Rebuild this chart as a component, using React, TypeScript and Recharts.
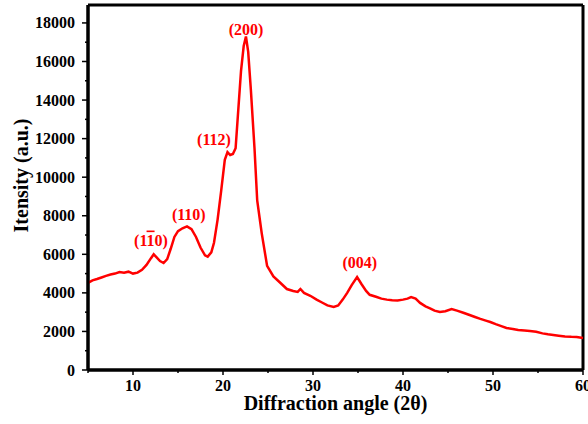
import React from "react";
import {
  LineChart,
  Line,
  XAxis,
  YAxis,
  ReferenceLine,
  ReferenceDot,
} from "recharts";

// 2-theta positions (deg) and intensities
const angles = [
  5.0, 5.5, 6.0, 6.5, 7.0, 7.5, 8.0, 8.5, 9.0, 9.5, 10.0, 10.5, 11.0, 11.5,
  12.0, 12.3, 12.6, 13.0, 13.4, 13.8, 14.2, 14.6, 15.0, 15.5, 16.0, 16.5,
  17.0, 17.5, 18.0, 18.3, 18.7, 19.0, 19.4, 19.8, 20.2, 20.5, 20.8, 21.1,
  21.4, 21.7, 22.0, 22.3, 22.55, 22.8, 23.1, 23.5, 23.8, 24.3, 24.9, 25.6,
  26.3, 27.1, 27.8, 28.3, 28.6, 29.0, 29.7, 30.4, 31.0, 31.6, 32.3, 32.8,
  33.3, 33.8, 34.3, 34.9, 35.4, 35.9, 36.3, 37.0, 37.6, 38.2, 38.8, 39.4,
  40.0, 40.5, 40.9, 41.4, 41.9, 42.5, 43.0, 43.5, 44.1, 44.7, 45.4, 46.0,
  46.7, 47.4, 48.0, 48.6, 49.2, 49.7, 50.3, 51.0, 51.5, 52.2, 52.8, 53.5,
  54.1, 54.8, 55.5, 56.1, 56.7, 57.3, 58.0, 58.7, 59.3, 60.0,
];

const intensity = [
  4520, 4650, 4720, 4800, 4880, 4950, 5000, 5080, 5050, 5100, 5000, 5050,
  5200, 5450, 5800, 6000, 5850, 5650, 5550, 5750, 6300, 6900, 7200, 7350,
  7450, 7300, 6900, 6350, 5950, 5880, 6100, 6600, 7800, 9300, 10900, 11300,
  11150, 11200, 11500, 13500, 15500, 16800, 17300, 16500, 14500, 11500, 8800,
  7100, 5400, 4850, 4550, 4200, 4100, 4050, 4200, 4000, 3850, 3650, 3500,
  3350, 3270, 3350, 3650, 4000, 4400, 4820, 4450, 4100, 3900, 3800, 3700,
  3650, 3620, 3600, 3650, 3700, 3780, 3700, 3480, 3300, 3200, 3080, 3010,
  3050, 3160, 3080, 2970, 2850, 2750, 2650, 2560, 2490, 2380, 2260, 2180,
  2130, 2080, 2050, 2020, 1980, 1900, 1850, 1820, 1780, 1740, 1720, 1710,
  1660,
];

const xTicks = [5, 10, 15, 20, 25, 30, 35, 40, 45, 50, 55, 60];
const yTicks = [
  0, 1000, 2000, 3000, 4000, 5000, 6000, 7000, 8000, 9000, 10000, 11000,
  12000, 13000, 14000, 15000, 16000, 17000, 18000,
];

// peak labels: text, angle, intensity where the label sits
const peakNames = ["(11_0)", "(110)", "(112)", "(200)", "(004)"];
const peakAngles = [12.0, 16.2, 19.0, 22.56, 35.2];
const peakHeights = [6740, 8040, 11930, 17640, 5550];

const X_MIN = 5;
const X_MAX = 60;
const Y_MAX = 18930;

const data = angles.map((a, i) => ({ angle: a, counts: intensity[i] }));

// box round the plot: two vertical and two horizontal lines at the domain ends
const frameX = [X_MIN, X_MAX];
const frameY = [0, Y_MAX];

const FONT = '"Liberation Serif", "Times New Roman", serif';
const RED = "#f00";

const XTick = (props: any) => {
  const { x, y, payload } = props;
  const major = payload.value % 10 === 0;
  return (
    <g>
      <line x1={x} y1={y} x2={x} y2={y + (major ? 5 : 3)} stroke="#000" strokeWidth={1.5} />
      {major && payload.value > X_MIN && (
        <text x={x} y={y + 21} textAnchor="middle" fontFamily={FONT} fontWeight="bold" fontSize={16} fill="#000">
          {payload.value}
        </text>
      )}
    </g>
  );
};

const YTick = (props: any) => {
  const { x, y, payload } = props;
  const major = payload.value % 2000 === 0;
  return (
    <g>
      <line x1={x} y1={y} x2={x - (major ? 6 : 3)} y2={y} stroke="#000" strokeWidth={1.5} />
      {major && (
        <text x={x - 13} y={y + 5.5} textAnchor="end" fontFamily={FONT} fontWeight="bold" fontSize={16} fill="#000">
          {payload.value}
        </text>
      )}
    </g>
  );
};

const peakLabel = (name: string) => (props: any) => {
  const { cx, cy } = props;
  const style = { fontFamily: FONT, fontWeight: "bold" as const, fontSize: 16, fill: RED };
  if (name.includes("_")) {
    // barred Miller index
    return (
      <text x={cx} y={cy + 5.5} textAnchor="middle" style={style}>
        (1<tspan style={{ textDecoration: "overline" }}>1</tspan>0)
      </text>
    );
  }
  return (
    <text x={cx} y={cy + 5.5} textAnchor="middle" style={style}>
      {name}
    </text>
  );
};

const App = () => {
  return (
    <div style={{ position: "absolute", left: 0, top: 0, width: 588, height: 424 }}>
      <LineChart
        width={588}
        height={424}
        data={data}
        margin={{ top: 5, right: 5, left: 0, bottom: 0 }}
      >
        <XAxis
          dataKey="angle"
          type="number"
          domain={[X_MIN, X_MAX]}
          ticks={xTicks}
          interval={0}
          height={54}
          stroke="#000"
          strokeWidth={3}
          tickLine={false}
          tickSize={0}
          tickMargin={0}
          tick={<XTick />}
          label={{
            content: (p: any) => {
              const vb = p.viewBox;
              return (
                <text x={vb.x + vb.width / 2} y={vb.y + 40} textAnchor="middle" fontFamily={FONT} fontWeight="bold" fontSize={20} fill="#000">
                  Diffraction angle (2θ)
                </text>
              );
            },
          }}
        />
        <YAxis
          type="number"
          domain={[0, Y_MAX]}
          ticks={yTicks}
          interval={0}
          width={88}
          stroke="#000"
          strokeWidth={3}
          tickLine={false}
          tickSize={0}
          tickMargin={0}
          tick={<YTick />}
          label={{
            content: (p: any) => {
              const vb = p.viewBox;
              const cx = vb.x + 21;
              const cy = vb.y + vb.height / 2 - 12;
              return (
                <text x={cx} y={cy} textAnchor="middle" transform={`rotate(-90 ${cx} ${cy})`} dy={7} fontFamily={FONT} fontWeight="bold" fontSize={20} fill="#000">
                  Itensity (a.u.)
                </text>
              );
            },
          }}
        />
        {frameX.map((v) => (
          <ReferenceLine key={"fx" + v} x={v} stroke="#000" strokeWidth={3} />
        ))}
        {frameY.map((v) => (
          <ReferenceLine key={"fy" + v} y={v} stroke="#000" strokeWidth={3} />
        ))}
        <Line
          type="linear"
          dataKey="counts"
          stroke={RED}
          strokeWidth={2.5}
          dot={false}
          isAnimationActive={false}
        />
        {peakNames.map((n, i) => (
          <ReferenceDot
            key={n}
            x={peakAngles[i]}
            y={peakHeights[i]}
            r={0}
            shape={peakLabel(n)}
          />
        ))}
      </LineChart>
    </div>
  );
};

export default App;
